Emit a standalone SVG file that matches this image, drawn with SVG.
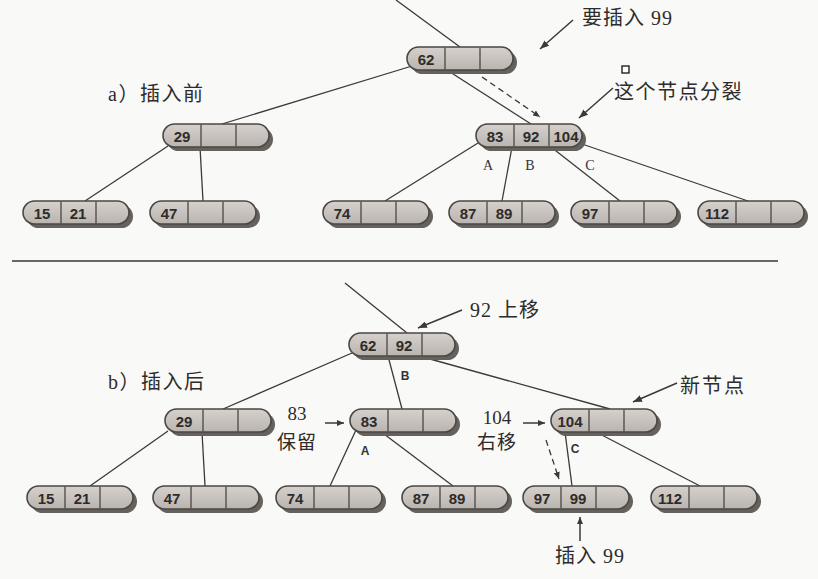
<svg xmlns="http://www.w3.org/2000/svg" xmlns:xlink="http://www.w3.org/1999/xlink" width="818" height="579" viewBox="0 0 818 579">
<style>
.k{font-family:"Liberation Sans","DejaVu Sans",sans-serif;font-weight:bold;font-size:15px;fill:#2e2c2a;text-anchor:middle}
.c{stroke:#3c3a38;stroke-width:1.3;fill:none}
.d{stroke:#3c3a38;stroke-width:1.3;fill:none;stroke-dasharray:6 4}
.a{stroke:#3c3a38;stroke-width:1.5;fill:none}
.t{font-family:"Liberation Serif","Noto Sans CJK SC",serif;font-size:20px;fill:#2e2c2a}
.tc{font-family:"Liberation Serif","Noto Sans CJK SC",serif;font-size:19px;fill:#2e2c2a;text-anchor:middle}
.lb{font-family:"Liberation Serif",serif;font-size:14px;fill:#333;text-anchor:middle}
.ls{font-family:"Liberation Sans",sans-serif;font-size:12px;font-weight:bold;fill:#333;text-anchor:middle}
</style>
<defs>
<linearGradient id="gf" x1="0" y1="0" x2="0" y2="1">
<stop offset="0" stop-color="#d6d1cc"/>
<stop offset="1" stop-color="#b9b4af"/>
</linearGradient>
<marker id="ah" markerUnits="userSpaceOnUse" markerWidth="9" markerHeight="7" refX="9" refY="3.5" orient="auto">
<path d="M0,0 L9,3.5 L0,7 z" fill="#3c3a38"/>
</marker>
<marker id="ahs" markerUnits="userSpaceOnUse" markerWidth="7" markerHeight="6" refX="7" refY="3" orient="auto">
<path d="M0,0 L7,3 L0,6 z" fill="#3c3a38"/>
</marker>
<g id="node">
<rect x="4" y="4" width="106" height="23" rx="11.5" fill="#65615d"/>
<rect x="0" y="0" width="106" height="23" rx="11.5" fill="url(#gf)" stroke="#4a4744" stroke-width="1.6"/>
<line x1="38" y1="0.5" x2="38" y2="22.5" stroke="#4a4744" stroke-width="1.3"/>
<line x1="73" y1="0.5" x2="73" y2="22.5" stroke="#4a4744" stroke-width="1.3"/>
</g>
</defs>
<rect width="818" height="579" fill="#f9f9f8"/>

<g id="connectors">
<line class="c" x1="396" y1="0" x2="460" y2="47"/>
<line class="c" x1="412" y1="66" x2="222" y2="124"/>
<line class="c" x1="450" y1="72" x2="531" y2="124"/>
<line class="d" x1="482" y1="77" x2="540" y2="117" marker-end="url(#ahs)"/>
<line class="c" x1="168" y1="146" x2="85" y2="201"/>
<line class="c" x1="200" y1="147" x2="203" y2="201"/>
<line class="c" x1="478" y1="143" x2="385" y2="201"/>
<line class="c" x1="512" y1="147" x2="502" y2="201"/>
<line class="c" x1="551" y1="147" x2="620" y2="201"/>
<line class="c" x1="582" y1="144" x2="748" y2="201"/>
<line class="a" x1="573" y1="20" x2="540" y2="49" marker-end="url(#ah)"/>
<line class="a" x1="613" y1="88" x2="579" y2="118" marker-end="url(#ah)"/>
<line x1="12" y1="261" x2="778" y2="261" stroke="#6a6663" stroke-width="2"/>
<line class="c" x1="345" y1="283" x2="407" y2="333"/>
<line class="c" x1="352" y1="353" x2="223" y2="409"/>
<line class="c" x1="388" y1="356" x2="402" y2="409"/>
<line class="c" x1="430" y1="359" x2="610" y2="409"/>
<line class="c" x1="168" y1="431" x2="90" y2="486"/>
<line class="c" x1="202" y1="432" x2="205" y2="486"/>
<line class="c" x1="356" y1="430" x2="330" y2="486"/>
<line class="c" x1="380" y1="431" x2="453" y2="486"/>
<line class="c" x1="565" y1="432" x2="572" y2="486"/>
<line class="c" x1="596" y1="432" x2="700" y2="486"/>
<line class="d" x1="546" y1="440" x2="559" y2="479" marker-end="url(#ahs)"/>
<line class="a" x1="462" y1="310" x2="418" y2="328" marker-end="url(#ah)"/>
<line class="a" x1="677" y1="383" x2="633" y2="402" marker-end="url(#ah)"/>
<line class="a" x1="325" y1="423" x2="344" y2="423" marker-end="url(#ahs)"/>
<line class="a" x1="523" y1="423" x2="545" y2="423" marker-end="url(#ahs)"/>
<line class="a" x1="580" y1="541" x2="580" y2="517" marker-end="url(#ahs)"/>
</g>

<g id="n62"><use href="#node" x="407" y="47"/><text class="k" x="426" y="64.5">62</text></g>
<g id="n29"><use href="#node" x="163" y="124"/><text class="k" x="182" y="141.5">29</text></g>
<g id="n83_92_104"><use href="#node" x="476" y="124"/><text class="k" x="495" y="141.5">83</text><text class="k" x="531" y="141.5">92</text><text class="k" x="566" y="141.5">104</text></g>
<g id="l15_21"><use href="#node" x="23" y="201"/><text class="k" x="42" y="218.5">15</text><text class="k" x="78" y="218.5">21</text></g>
<g id="l47"><use href="#node" x="150" y="201"/><text class="k" x="169" y="218.5">47</text></g>
<g id="l74"><use href="#node" x="323" y="201"/><text class="k" x="342" y="218.5">74</text></g>
<g id="l87_89"><use href="#node" x="449" y="201"/><text class="k" x="468" y="218.5">87</text><text class="k" x="504" y="218.5">89</text></g>
<g id="l97"><use href="#node" x="571" y="201"/><text class="k" x="590" y="218.5">97</text></g>
<g id="l112"><use href="#node" x="698" y="201"/><text class="k" x="717" y="218.5">112</text></g>

<g id="n62_92"><use href="#node" x="349" y="333"/><text class="k" x="368" y="350.5">62</text><text class="k" x="404" y="350.5">92</text></g>
<g id="n29b"><use href="#node" x="165" y="409"/><text class="k" x="184" y="426.5">29</text></g>
<g id="n83b"><use href="#node" x="350" y="409"/><text class="k" x="369" y="426.5">83</text></g>
<g id="n104"><use href="#node" x="551" y="409"/><text class="k" x="570" y="426.5">104</text></g>
<g id="l15_21b"><use href="#node" x="27" y="486"/><text class="k" x="46" y="503.5">15</text><text class="k" x="82" y="503.5">21</text></g>
<g id="l47b"><use href="#node" x="153" y="486"/><text class="k" x="172" y="503.5">47</text></g>
<g id="l74b"><use href="#node" x="276" y="486"/><text class="k" x="295" y="503.5">74</text></g>
<g id="l87_89b"><use href="#node" x="402" y="486"/><text class="k" x="421" y="503.5">87</text><text class="k" x="457" y="503.5">89</text></g>
<g id="l97_99b"><use href="#node" x="523" y="486"/><text class="k" x="542" y="503.5">97</text><text class="k" x="578" y="503.5">99</text></g>
<g id="l112b"><use href="#node" x="651" y="486"/><text class="k" x="670" y="503.5">112</text></g>

<g id="labels">
<text class="t" x="582" y="25" letter-spacing="1">要插入 99</text>
<text class="t" x="614" y="99" letter-spacing="1.5">这个节点分裂</text>
<text class="t" x="108" y="101" font-size="18" letter-spacing="1.5">a）插入前</text>
<text class="lb" x="488" y="170">A</text>
<text class="lb" x="530" y="170">B</text>
<text class="lb" x="590" y="170">C</text>
<rect x="622" y="66" width="7" height="7" fill="#fff" stroke="#111" stroke-width="1.3"/>
<text class="t" x="470" y="317" letter-spacing="1">92 上移</text>
<text class="t" x="108" y="389" font-size="18" letter-spacing="1.5">b）插入后</text>
<text class="t" x="680" y="393" letter-spacing="2">新节点</text>
<text class="tc" x="297" y="420">83</text>
<text class="tc" x="297" y="449" letter-spacing="1">保留</text>
<text class="tc" x="497" y="424">104</text>
<text class="tc" x="497" y="449" letter-spacing="1">右移</text>
<text class="ls" x="405" y="380">B</text>
<text class="ls" x="365" y="455">A</text>
<text class="ls" x="575" y="453">C</text>
<text class="t" x="555" y="563" letter-spacing="1">插入 99</text>
</g>
</svg>
